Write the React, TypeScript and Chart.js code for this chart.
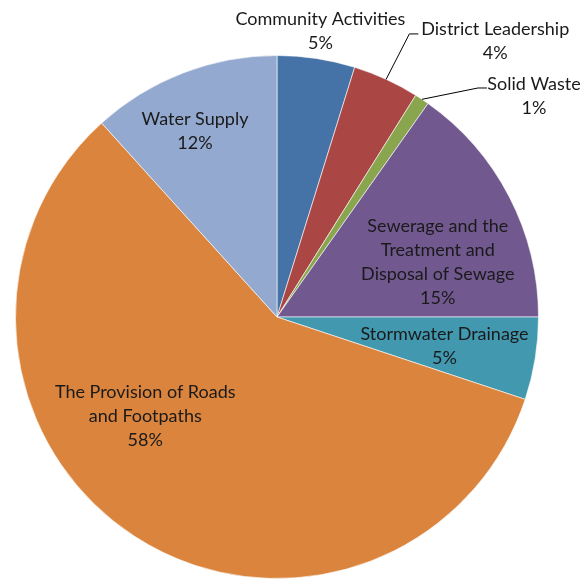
import React, { useEffect, useRef } from "react";
import { Chart, registerables } from "chart.js";

Chart.register(...registerables);

const categories = [
  "Community Activities",
  "District Leadership",
  "Solid Waste",
  "Sewerage and the Treatment and Disposal of Sewage",
  "Stormwater Drainage",
  "The Provision of Roads and Footpaths",
  "Water Supply",
];
const values = [4.8, 4.1, 0.9, 15.2, 5.1, 58.2, 11.7];
const percentLabels = ["5%", "4%", "1%", "15%", "5%", "58%", "12%"];
const labelLines: string[][] = [
  ["Community Activities"],
  ["District Leadership"],
  ["Solid Waste"],
  ["Sewerage and the", "Treatment and", "Disposal of Sewage"],
  ["Stormwater Drainage"],
  ["The Provision of Roads", "and Footpaths"],
  ["Water Supply"],
];
const colors = ["#4572A7", "#AA4643", "#89A54E", "#71588F", "#4198AF", "#DB843D", "#93A9CF"];

// label placement: angle offset (deg) from slice mid-angle, radius factor
const labelAngleOffset = [0, 13.7, 15.7, 8.4, 0.6, 20, -2.8];
const labelRadius = [1.105, 1.345, 1.295, 0.65, 0.65, 0.63, 0.775];
// leader lines: elbow (angle offset, radius factor) or null
const leaderElbow: ([number, number] | null)[] = [null, [0.4, 1.195], [7.6, 1.165], null, null, null, null];

const FONT = "18px Lato, 'Open Sans', sans-serif";
const LINE_H = 24;

const labelPlugin = {
  id: "pieLabels",
  afterDatasetsDraw(chart: any) {
    const ctx = chart.ctx as CanvasRenderingContext2D;
    const meta = chart.getDatasetMeta(0);
    ctx.save();
    ctx.font = FONT;
    ctx.fillStyle = "#1a1a1a";
    ctx.textAlign = "center";
    ctx.textBaseline = "middle";
    meta.data.forEach((arc: any, i: number) => {
      const { x, y, startAngle, endAngle, outerRadius } = arc.getProps(
        ["x", "y", "startAngle", "endAngle", "outerRadius"],
        true
      );
      const mid = (startAngle + endAngle) / 2;
      const polar = (dDeg: number, rf: number) => {
        const a = mid + (dDeg * Math.PI) / 180;
        return [x + Math.cos(a) * rf * outerRadius, y + Math.sin(a) * rf * outerRadius];
      };
      const lines = [...labelLines[i], percentLabels[i]];
      const [lx, ly] = polar(labelAngleOffset[i], labelRadius[i]);
      const lead = leaderElbow[i];
      if (lead) {
        const [sx, sy] = polar(0, 1.0);
        const [ex, ey] = polar(lead[0], lead[1]);
        ctx.save();
        ctx.strokeStyle = "#000";
        ctx.lineWidth = 1;
        ctx.beginPath();
        ctx.moveTo(sx, sy);
        ctx.lineTo(ex, ey);
        ctx.lineTo(ex + 9, ey);
        ctx.stroke();
        ctx.restore();
      }
      const top = ly - ((lines.length - 1) * LINE_H) / 2;
      lines.forEach((t, k) => ctx.fillText(t, lx, top + k * LINE_H));
    });
    ctx.restore();
  },
};

export default function App() {
  const ref = useRef<HTMLCanvasElement | null>(null);
  useEffect(() => {
    if (!ref.current) return;
    const chart = new Chart(ref.current, {
      type: "pie",
      data: {
        labels: categories,
        datasets: [
          {
            data: values,
            backgroundColor: colors,
            borderColor: "rgba(255,255,255,0.6)",
            borderWidth: 1,
          },
        ],
      },
      options: {
        responsive: false,
        animation: false,
        layout: { padding: { left: 15, right: 44, top: 55, bottom: 0 } },
        plugins: { legend: { display: false }, tooltip: { enabled: false } },
      },
      plugins: [labelPlugin],
    });
    return () => chart.destroy();
  }, []);
  return (
    <div style={{ position: "fixed", left: 0, top: 0, width: 583, height: 579, background: "#fff" }}>
      <canvas ref={ref} width={583} height={579} style={{ width: 583, height: 579 }} />
    </div>
  );
}
